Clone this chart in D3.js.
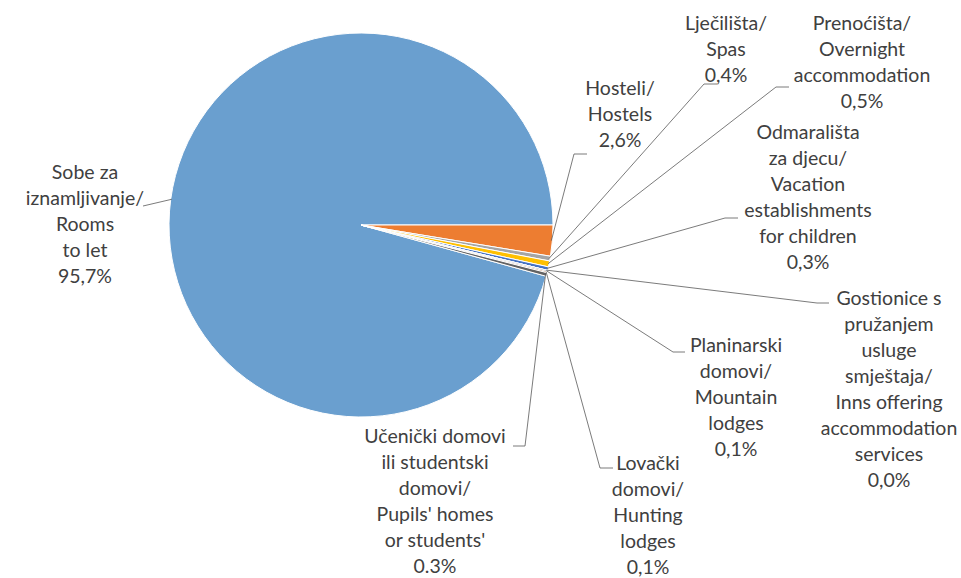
<!DOCTYPE html>
<html><head><meta charset="utf-8">
<script src="https://cdn.jsdelivr.net/npm/d3@7"></script>
<style>html,body{margin:0;padding:0;background:#fff;}</style>
</head><body>
<svg id="chart" width="961" height="578"></svg>
<script>
// ---- data ----
const categories = ["Sobe za iznamljivanje/Rooms to let","Hosteli/Hostels","Lječilišta/Spas","Prenoćišta/Overnight accommodation","Odmarališta za djecu/Vacation establishments for children","Gostionice s pružanjem usluge smještaja/Inns offering accommodation services","Planinarski domovi/Mountain lodges","Lovački domovi/Hunting lodges","Učenički domovi ili studentski domovi/Pupils' homes or students'"];
const values = [95.7, 2.6, 0.4, 0.5, 0.3, 0.0, 0.1, 0.1, 0.3];
const valueLabels = ["95,7%","2,6%","0,4%","0,5%","0,3%","0,0%","0,1%","0,1%","0.3%"];
const labelLines = [
  ["Sobe za","iznamljivanje/","Rooms","to let"],
  ["Hosteli/","Hostels"],
  ["Lječilišta/","Spas"],
  ["Prenoćišta/","Overnight","accommodation"],
  ["Odmarališta","za djecu/","Vacation","establishments","for children"],
  ["Gostionice s","pružanjem","usluge","smještaja/","Inns offering","accommodation","services"],
  ["Planinarski","domovi/","Mountain","lodges"],
  ["Lovački","domovi/","Hunting","lodges"],
  ["Učenički domovi","ili studentski","domovi/","Pupils' homes","or students'"]
];
const colors = ["#6a9fcf","#ed7d31","#a5a5a5","#ffc000","#4472c4","#70ad47","#255e91","#9e480e","#636363"];

// ---- layout (label positions, not data) ----
const layout = [
  {x:85,  y:172, leader:[[143,206]]},
  {x:620, y:88,  leader:[[587,154],[574,154]]},
  {x:726, y:23,  leader:[[717,84],[704,84]]},
  {x:862, y:23,  leader:[[789,87],[776,87]]},
  {x:808, y:132, leader:[[738,218],[725,218]]},
  {x:889, y:298, leader:[[829,303],[817,303]]},
  {x:736, y:345, leader:[[685,352],[673,352]]},
  {x:648, y:463, leader:[[613,468],[600,468]]},
  {x:435, y:436, leader:[[513,446],[525,446]]}
];

const cx = 361, cy = 225, R = 192, lineH = 26;
const svg = d3.select("#chart");
const total = d3.sum(values);
const start = Math.PI/2 + 2*Math.PI*(1 - values[0]/total);
const pie = d3.pie().sort(null).value(d => d).startAngle(start).endAngle(start + 2*Math.PI);
const arcs = pie(values);
const arc = d3.arc().innerRadius(0).outerRadius(R);

const g = svg.append("g").attr("transform", `translate(${cx},${cy})`);
g.selectAll("path").data(arcs).join("path")
  .attr("d", arc)
  .attr("fill", (d,i) => colors[i])
  .attr("stroke", "#fff")
  .attr("stroke-width", 1);

// leader lines
const line = d3.line();
arcs.forEach((d,i) => {
  const a = (d.startAngle + d.endAngle)/2;
  const ex = cx + (R-1)*Math.sin(a), ey = cy - (R-1)*Math.cos(a);
  const pts = layout[i].leader.concat([[ex,ey]]);
  svg.append("path").attr("d", line(pts))
    .attr("fill","none").attr("stroke","#595959").attr("stroke-width",0.8);
});

// labels
categories.forEach((c,i) => {
  const lines = labelLines[i].concat([valueLabels[i]]);
  const t = svg.append("text")
    .attr("text-anchor","middle")
    .attr("font-family","Lato, 'Open Sans', sans-serif")
    .attr("font-size","19.5px")
    .attr("fill","#404040");
  lines.forEach((s,k) => {
    t.append("tspan").attr("x", layout[i].x).attr("y", layout[i].y + k*lineH).attr("dy","0.35em").text(s);
  });
});
</script>
</body></html>
